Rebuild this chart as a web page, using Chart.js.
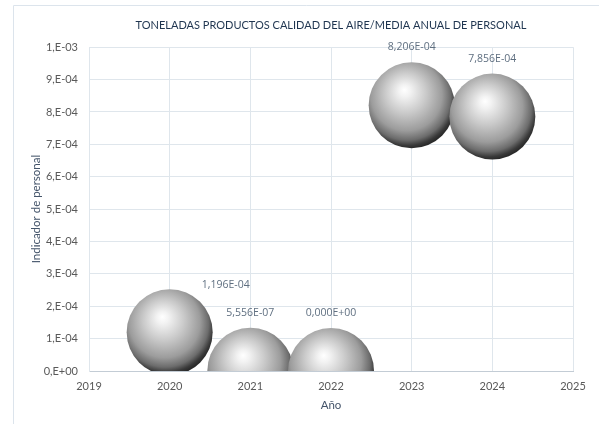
<!DOCTYPE html>
<html><head><meta charset="utf-8">
<script src="https://cdn.jsdelivr.net/npm/chart.js@4/dist/chart.umd.min.js"></script>
<style>html,body{margin:0;padding:0;background:#fff}#wrap{width:599px;height:424px;position:relative}</style>
</head><body><div id="wrap"><canvas id="c"></canvas></div>
<script>
const years = [2020, 2021, 2022, 2023, 2024];
const values = [1.196e-4, 5.556e-7, 0, 8.206e-4, 7.856e-4];
const xTickValues = [2019, 2020, 2021, 2022, 2023, 2024, 2025];
const yTickValues = [0, 1e-4, 2e-4, 3e-4, 4e-4, 5e-4, 6e-4, 7e-4, 8e-4, 9e-4, 1e-3];
const chartTitle = 'TONELADAS PRODUCTOS CALIDAD DEL AIRE/MEDIA ANUAL DE PERSONAL';
const xTitle = 'Año';
const yTitle = 'Indicador de personal';

const NARROW = "Lato, 'Liberation Sans', sans-serif";
const LABELFONT = "'Open Sans', Lato, sans-serif";
const BUBBLE_R = 43;

function sci(v, digits) {
  const s = Number(v).toExponential(digits);
  const [m, e] = s.split('e');
  const n = parseInt(e, 10);
  const exp = (n < 0 ? '-' : '+') + String(Math.abs(n)).padStart(2, '0');
  const mant = digits === 0 ? m + ',' : m.replace('.', ',');
  return mant + 'E' + exp;
}

function sphere(ctx) {
  const chart = ctx.chart;
  if (ctx.type !== 'data' || !chart.chartArea) return '#a0a0a0';
  const xs = chart.scales.x, ys = chart.scales.y;
  const cx = xs.getPixelForValue(ctx.raw.x), cy = ys.getPixelForValue(ctx.raw.y);
  const r = BUBBLE_R;
  const g = chart.ctx.createRadialGradient(cx - 0.17 * r, cy - 0.36 * r, 0, cx - 0.1 * r, cy - 0.18 * r, 1.18 * r);
  g.addColorStop(0, '#ffffff');
  g.addColorStop(0.12, '#f2f2f2');
  g.addColorStop(0.4, '#cacaca');
  g.addColorStop(0.7, '#9c9c9c');
  g.addColorStop(0.86, '#6c6c6c');
  g.addColorStop(0.95, '#3a3a3a');
  g.addColorStop(1, '#2a2a2a');
  return g;
}

const framePlugin = {
  id: 'frame',
  beforeDraw(chart) {
    const c = chart.ctx;
    c.save();
    c.strokeStyle = '#dce4ec';
    c.lineWidth = 1;
    c.beginPath();
    c.moveTo(13.5, 424); c.lineTo(13.5, 5.5); c.lineTo(599, 5.5);
    c.stroke();
    c.restore();
  }
};

const labelPlugin = {
  id: 'vlabels',
  afterDatasetsDraw(chart) {
    const c = chart.ctx;
    const meta = chart.getDatasetMeta(0);
    c.save();
    c.font = '10.5px ' + LABELFONT;
    c.fillStyle = '#5f6f80';
    c.textAlign = 'center';
    c.textBaseline = 'middle';
    meta.data.forEach((el, i) => {
      let x = el.x, y = el.y - BUBBLE_R - 15;
      if (i === 0) { x = el.x + 56; y = el.y - 47; }
      c.fillText(sci(values[i], 3), x, y);
    });
    c.restore();
  }
};

new Chart(document.getElementById('c'), {
  type: 'bubble',
  data: {
    datasets: [{
      data: years.map((y, i) => ({ x: y, y: values[i] })),
      backgroundColor: sphere,
      borderWidth: 0,
      radius: BUBBLE_R,
      hoverRadius: 0,
      clip: 0
    }]
  },
  options: {
    responsive: true,
    maintainAspectRatio: false,
    devicePixelRatio: 1,
    animation: false,
    events: [],
    layout: { autoPadding: false, padding: { left: 0, right: 26, top: 0, bottom: 0 } },
    plugins: {
      legend: { display: false },
      tooltip: { enabled: false },
      title: {
        display: true,
        text: chartTitle,
        fullSize: false,
        color: '#1f3550',
        font: { family: NARROW, size: 11, weight: 'normal' },
        padding: { top: 19, bottom: 15 }
      }
    },
    scales: {
      x: {
        type: 'linear',
        min: 2019, max: 2025,
        afterBuildTicks: (s) => { s.ticks = xTickValues.map(v => ({ value: v })); },
        afterFit: (s) => { s.height = 53; s.paddingLeft = 0; s.paddingRight = 0; },
        ticks: { color: '#595959', font: { family: NARROW, size: 11 }, padding: 9, callback: (v) => String(v), maxRotation: 0 },
        grid: { color: '#dfe6ec', drawTicks: false },
        border: { color: '#c3ccd5' },
        title: { display: true, text: xTitle, color: '#44546a', font: { family: NARROW, size: 11.5, weight: 'normal' }, padding: { top: 0, bottom: 12 } }
      },
      y: {
        type: 'linear',
        min: 0, max: 0.001,
        afterBuildTicks: (s) => { s.ticks = yTickValues.map(v => ({ value: v })); },
        afterFit: (s) => { s.width = 89; s.paddingTop = 0; s.paddingBottom = 0; },
        ticks: { color: '#595959', font: { family: NARROW, size: 11 }, padding: 11, callback: (v) => sci(v, 0) },
        grid: { color: '#dfe6ec', drawTicks: false },
        border: { color: '#dfe6ec' },
        title: { display: true, text: yTitle, color: '#44546a', font: { family: NARROW, size: 11.5, weight: 'normal' }, padding: { top: 29, bottom: 0 } }
      }
    }
  },
  plugins: [framePlugin, labelPlugin]
});
</script>
</body></html>
